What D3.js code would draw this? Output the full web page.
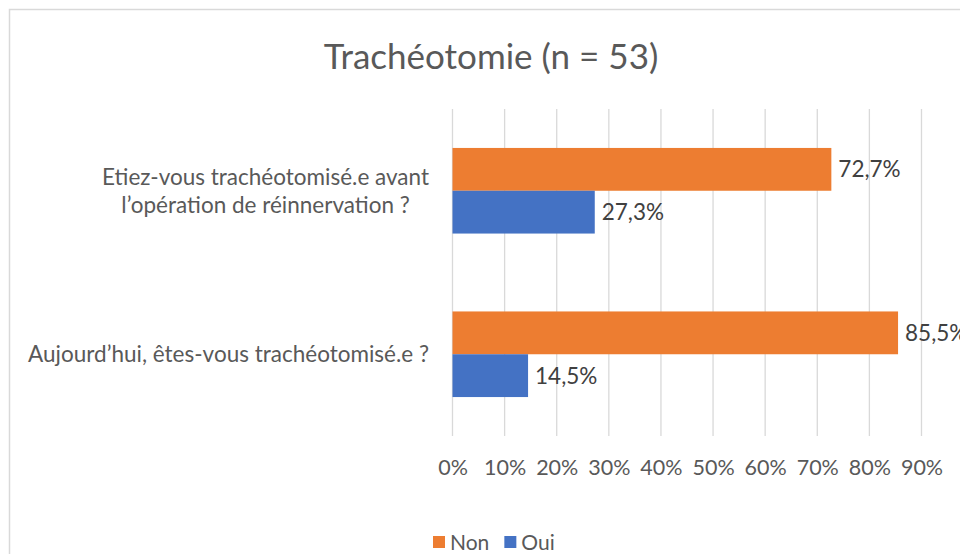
<!DOCTYPE html>
<html>
<head>
<meta charset="utf-8">
<script src="https://cdn.jsdelivr.net/npm/d3@7"></script>
<style>
  html, body { margin: 0; padding: 0; background: #fff; }
  svg { display: block; font-family: Lato, "Open Sans", sans-serif; }
</style>
</head>
<body>
<div id="chart"></div>
<script>
// donnees du graphique
const titre = "Trachéotomie (n = 53)";
const categories = [
  "Etiez-vous trachéotomisé.e avant\nl’opération de réinnervation ?",
  "Aujourd’hui, êtes-vous trachéotomisé.e ?"
];
const series = ["Non", "Oui"];
const valeursNon = [72.7, 85.5];
const valeursOui = [27.3, 14.5];
const ticks = [0, 10, 20, 30, 40, 50, 60, 70, 80, 90];

const couleurs = {Non: "#ED7D31", Oui: "#4472C4"};
const valeurs = {Non: valeursNon, Oui: valeursOui};

const W = 960, H = 554;
const plot = {left: 452.5, right: 921.5, top: 109, bottom: 436};
const taille = "22.5px"; // taille du texte courant

const svg = d3.select("#chart").append("svg")
  .attr("width", W)
  .attr("height", H);

// cadre du graphique (depasse a droite et en bas)
svg.append("rect")
  .attr("x", 9.5).attr("y", 9.5)
  .attr("width", 1000).attr("height", 600)
  .attr("fill", "#fff")
  .attr("stroke", "#d9d9d9")
  .attr("stroke-width", 1.5);

svg.append("text")
  .attr("x", 491).attr("y", 69)
  .attr("text-anchor", "middle")
  .attr("fill", "#595959")
  .style("font-size", "35px")
  .text(titre);

const x = d3.scaleLinear()
  .domain([0, 90])
  .range([plot.left, plot.right]);

const y = d3.scaleBand()
  .domain(categories)
  .range([plot.top, plot.bottom]);

const ySub = d3.scaleBand()
  .domain(series)
  .range([0, y.bandwidth()])
  .paddingInner(0)
  .paddingOuter(0.91);

// grille verticale
svg.append("g").selectAll("line")
  .data(ticks)
  .enter()
  .append("line")
  .attr("x1", d => x(d)).attr("x2", d => x(d))
  .attr("y1", plot.top).attr("y2", plot.bottom)
  .attr("stroke", "#d9d9d9")
  .attr("stroke-width", 1.3);

// axe des pourcentages (sans ligne)
const axeX = d3.axisBottom(x)
  .tickValues(ticks)
  .tickSize(0)
  .tickPadding(0)
  .tickFormat(d => d + "%");

const gX = svg.append("g")
  .attr("transform", `translate(0,${plot.bottom + 24})`)
  .call(axeX);
gX.select(".domain").remove();
gX.selectAll("text")
  .attr("dy", "0.71em")
  .attr("fill", "#595959")
  .style("font-size", "21.5px")
  .style("font-family", "Lato, sans-serif");

// barres
const groupes = svg.append("g").selectAll("g")
  .data(categories)
  .enter()
  .append("g")
  .attr("transform", d => `translate(0,${y(d)})`);

groupes.selectAll("rect")
  .data((c, i) => series.map(s => ({serie: s, v: valeurs[s][i]})))
  .enter()
  .append("rect")
  .attr("x", x(0))
  .attr("y", d => ySub(d.serie))
  .attr("width", d => x(d.v) - x(0))
  .attr("height", ySub.bandwidth())
  .attr("fill", d => couleurs[d.serie]);

// etiquettes de donnees
groupes.selectAll("text.val")
  .data((c, i) => series.map(s => ({serie: s, v: valeurs[s][i]})))
  .enter()
  .append("text")
  .attr("class", "val")
  .attr("x", d => x(d.v) + 7)
  .attr("y", d => ySub(d.serie) + ySub.bandwidth() / 2)
  .attr("dy", "0.36em")
  .attr("fill", "#404040")
  .style("font-size", taille)
  .text(d => d.v.toFixed(1).replace(".", ",") + "%");

// libelles des categories (centres entre eux, alignes a droite)
categories.forEach(c => {
  const lignes = c.split("\n");
  const t = svg.append("text")
    .attr("fill", "#595959")
    .style("font-size", taille)
    .attr("text-anchor", "middle");
  const cy = y(c) + y.bandwidth() / 2;
  const pas = 28;
  lignes.forEach((l, i) => {
    t.append("tspan")
      .attr("x", 0)
      .attr("y", cy + (i - (lignes.length - 1) / 2) * pas)
      .attr("dy", "0.36em")
      .text(l);
  });
  const largeur = t.node().getBBox().width;
  t.attr("transform", `translate(${429 - largeur / 2},0)`);
});

// legende
const legende = svg.append("g")
  .attr("transform", "translate(433,542)");
let lx = 0;
series.forEach(s => {
  legende.append("rect")
    .attr("x", lx).attr("y", -6)
    .attr("width", 12).attr("height", 12)
    .attr("fill", couleurs[s]);
  const t = legende.append("text")
    .attr("x", lx + 17)
    .attr("y", 0)
    .attr("dy", "0.36em")
    .attr("fill", "#595959")
    .style("font-size", "21px")
    .text(s);
  lx += 17 + t.node().getComputedTextLength() + 15;
});
</script>
</body>
</html>
